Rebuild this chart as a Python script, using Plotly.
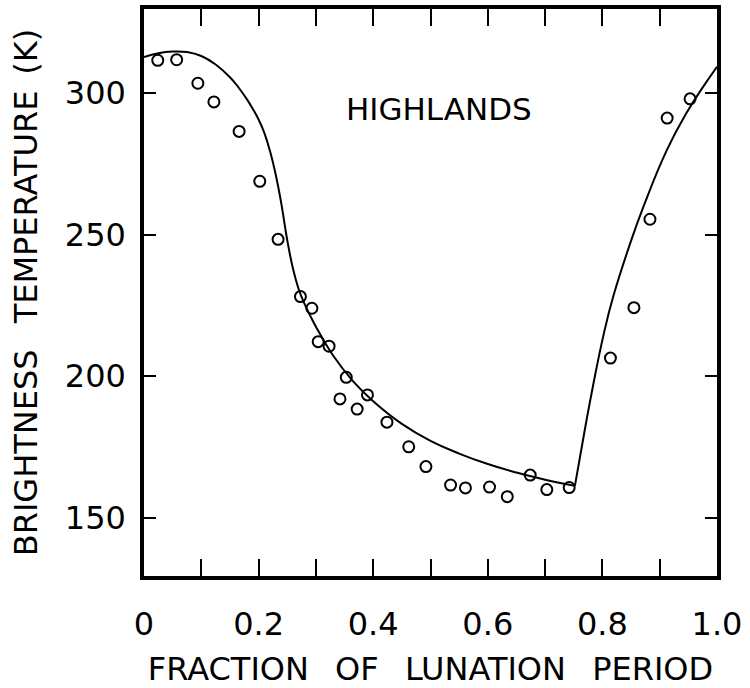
import plotly.graph_objects as go

# Observed brightness temperatures (open circles)
obs_frac = [0.024, 0.057, 0.094, 0.122, 0.166, 0.202, 0.234,
            0.273, 0.293, 0.304, 0.323, 0.342, 0.353, 0.372, 0.390, 0.424, 0.462, 0.492,
            0.535, 0.561, 0.603, 0.634, 0.674, 0.703, 0.742,
            0.814, 0.855, 0.883, 0.913, 0.953]
obs_temp = [311.5, 311.7, 303.4, 296.8, 286.4, 268.8, 248.3,
            228.1, 224.0, 212.2, 210.6, 192.0, 199.6, 188.4, 193.4, 183.8, 175.1, 168.1,
            161.6, 160.6, 160.9, 157.5, 165.1, 160.0, 160.7,
            206.4, 224.2, 255.4, 291.1, 297.9]

# Model curve: cooling branch
cool_frac = [0.0, 0.025, 0.05, 0.075, 0.10, 0.125, 0.15, 0.165, 0.18, 0.19, 0.20, 0.21,
             0.22, 0.23, 0.24, 0.25, 0.26, 0.27, 0.28, 0.29, 0.30, 0.33, 0.365, 0.40,
             0.45, 0.50, 0.55, 0.60, 0.65, 0.70, 0.752]
cool_temp = [312.6, 314.0, 314.6, 314.4, 313.0, 310.0, 305.5, 301.9, 297.6, 294.3, 290.6, 285.9,
             279.4, 271.0, 260.5, 248.0, 238.0, 230.7, 225.6, 221.4, 217.5, 207.3, 198.2, 191.2,
             183.2, 177.2, 172.7, 169.0, 166.0, 163.5, 161.3]

# Model curve: heating branch
heat_frac = [0.752, 0.770, 0.784, 0.802, 0.819, 0.848, 0.871, 0.912, 0.947, 0.976, 1.0]
heat_temp = [161.3, 181.9, 197.0, 214.6, 228.2, 246.6, 259.5, 279.6, 293.0, 302.2, 309.2]

x_ticktext = ["0", "0.2", "0.4", "0.6", "0.8", "1.0"]
y_tickvals = [150, 200, 250, 300]

FONT = "DejaVu Sans"

fig = go.Figure()
for xs, ys in [(cool_frac, cool_temp), (heat_frac, heat_temp)]:
    fig.add_trace(go.Scatter(x=xs, y=ys, mode="lines",
                             line=dict(color="black", width=2, shape="spline", smoothing=1.3),
                             showlegend=False, hoverinfo="skip"))
fig.add_trace(go.Scatter(x=obs_frac, y=obs_temp, mode="markers",
                         marker=dict(symbol="circle-open", size=11, color="black",
                                     line=dict(width=2, color="black")),
                         showlegend=False))

fig.add_annotation(x=0.515, y=294.2, xref="x", yref="y", text="HIGHLANDS",
                   showarrow=False, font=dict(family=FONT, size=31, color="black"))

fig.update_layout(
    width=750, height=688,
    margin=dict(l=144, r=33, t=5, b=101),
    paper_bgcolor="white", plot_bgcolor="white",
    font=dict(family=FONT, size=31, color="black"),
)
fig.update_xaxes(
    range=[0, 1],
    tickvals=[i / 10 for i in range(11)],
    ticktext=[x_ticktext[i // 2] if i % 2 == 0 else "" for i in range(11)],
    ticks="inside", ticklen=17, tickwidth=2, tickcolor="black",
    showline=True, linewidth=3.5, linecolor="black", mirror="allticks",
    showgrid=False, zeroline=False,
    ticklabelstandoff=17,
    tickfont=dict(family=FONT, size=32),
    title=dict(text="FRACTION\u2002\u00a0OF\u2002\u00a0LUNATION\u2002\u00a0PERIOD", standoff=17,
               font=dict(family=FONT, size=32)),
)
fig.update_yaxes(
    range=[129.5, 329.6],
    tickvals=y_tickvals, ticktext=[str(v) for v in y_tickvals],
    ticks="inside", ticklen=12, tickwidth=2, tickcolor="black",
    showline=True, linewidth=3.5, linecolor="black", mirror="allticks",
    showgrid=False, zeroline=False,
    ticklabelstandoff=8,
    tickfont=dict(family=FONT, size=32),
    title=dict(text="BRIGHTNESS\u2002\u00a0TEMPERATURE\u2002(K)", standoff=19,
               font=dict(family=FONT, size=32)),
)

fig.write_html("out.html")
